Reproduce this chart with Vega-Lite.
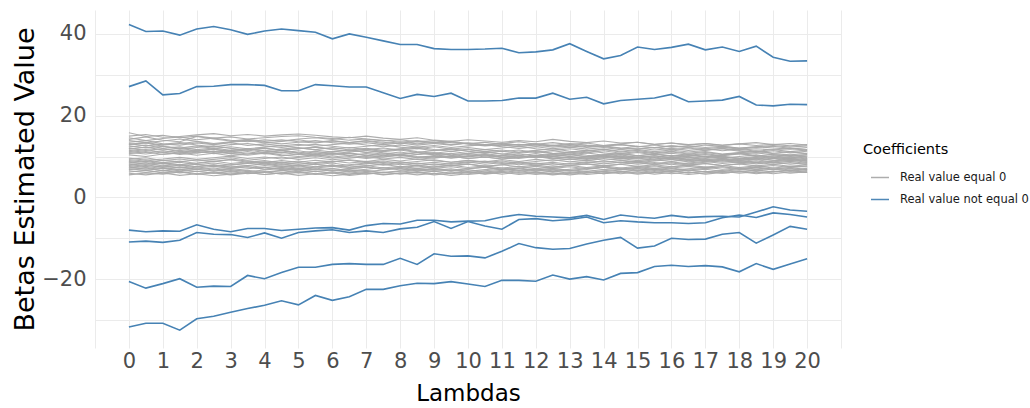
{
"$schema": "https://vega.github.io/schema/vega-lite/v6.json",
"autosize": {"type": "none"},
"padding": {"left": 95, "top": 10, "right": 189, "bottom": 60},
"width": 746,
"height": 338,
"background": "white",
"config": {"view": {"stroke": null}, "font": "DejaVu Sans"},
"data": {"values": [
{"s":"U1","type":"Real value equal 0","x":[0,0.5,1,1.5,2,2.5,3,3.5,4,4.5,5,5.5,6,6.5,7,7.5,8,8.5,9,9.5,10,10.5,11,11.5,12,12.5,13,13.5,14,14.5,15,15.5,16,16.5,17,17.5,18,18.5,19,19.5,20],"v":[15.8,14.9,15.2,14.6,15.0,14.5,14.8,14.3,14.6,14.9,15.1,14.7,14.4,14.0,14.3,13.8,14.1,13.6,13.9,13.4,13.2,13.5,13.0,12.8,13.1,12.6,12.9,12.4,12.7,12.9,12.5,12.2,12.6,12.3,12.8,12.5,12.1,12.4,12.7,12.3,12.6]},
{"s":"U2","type":"Real value equal 0","x":[0,0.5,1,1.5,2,2.5,3,3.5,4,4.5,5,5.5,6,6.5,7,7.5,8,8.5,9,9.5,10,10.5,11,11.5,12,12.5,13,13.5,14,14.5,15,15.5,16,16.5,17,17.5,18,18.5,19,19.5,20],"v":[15.0,15.4,14.7,14.9,15.3,15.6,15.1,15.4,15.0,15.3,15.5,15.2,14.8,14.6,15.0,14.5,14.2,14.6,14.0,13.7,14.1,13.8,13.5,13.9,13.6,14.2,13.7,13.4,13.8,13.3,13.5,13.0,13.3,12.9,13.2,12.8,13.1,12.7,13.0,12.6,12.9]},
{"s":"U3","type":"Real value equal 0","x":[0,0.5,1,1.5,2,2.5,3,3.5,4,4.5,5,5.5,6,6.5,7,7.5,8,8.5,9,9.5,10,10.5,11,11.5,12,12.5,13,13.5,14,14.5,15,15.5,16,16.5,17,17.5,18,18.5,19,19.5,20],"v":[14.6,13.9,14.4,14.8,14.1,14.5,14.0,13.6,14.1,13.8,14.3,14.6,14.2,14.7,14.3,14.0,13.5,13.9,13.4,13.7,13.2,12.9,13.3,12.8,13.1,12.7,13.2,12.8,12.5,12.9,12.4,12.8,12.3,12.6,12.2,12.5,12.0,12.4,12.1,11.8,12.2]},
{"s":"U4","type":"Real value equal 0","x":[0,0.5,1,1.5,2,2.5,3,3.5,4,4.5,5,5.5,6,6.5,7,7.5,8,8.5,9,9.5,10,10.5,11,11.5,12,12.5,13,13.5,14,14.5,15,15.5,16,16.5,17,17.5,18,18.5,19,19.5,20],"v":[14.2,14.8,14.0,13.6,14.9,14.3,13.8,14.2,13.7,14.1,13.6,13.3,13.8,13.4,13.9,13.5,13.1,13.6,13.2,12.8,13.3,12.9,12.6,13.0,12.5,12.8,12.3,12.7,12.4,12.0,12.5,12.1,12.6,12.2,11.9,12.3,11.8,12.2,12.5,12.0,11.7]},
{"s":"U5","type":"Real value equal 0","x":[0,0.5,1,1.5,2,2.5,3,3.5,4,4.5,5,5.5,6,6.5,7,7.5,8,8.5,9,9.5,10,10.5,11,11.5,12,12.5,13,13.5,14,14.5,15,15.5,16,16.5,17,17.5,18,18.5,19,19.5,20],"v":[13.9,13.4,13.8,14.3,13.7,13.2,13.6,14.0,13.5,13.1,13.5,13.9,13.4,13.0,13.4,12.9,13.3,12.8,13.2,13.6,13.0,12.6,12.9,12.4,12.8,12.3,12.7,12.2,12.6,12.1,11.8,12.2,11.7,12.1,11.6,12.0,11.5,11.9,11.6,12.0,11.5]},
{"s":"U6","type":"Real value equal 0","x":[0,0.5,1,1.5,2,2.5,3,3.5,4,4.5,5,5.5,6,6.5,7,7.5,8,8.5,9,9.5,10,10.5,11,11.5,12,12.5,13,13.5,14,14.5,15,15.5,16,16.5,17,17.5,18,18.5,19,19.5,20],"v":[13.5,13.9,13.1,12.8,13.3,12.9,13.4,12.7,13.1,12.6,13.0,12.5,12.9,13.3,12.8,12.4,12.8,12.3,12.7,12.2,12.6,12.9,12.4,12.0,12.4,11.9,12.3,11.8,12.2,11.7,12.1,11.6,12.0,11.5,11.9,11.4,11.8,11.3,11.7,11.2,11.6]},
{"s":"U7","type":"Real value equal 0","x":[0,0.5,1,1.5,2,2.5,3,3.5,4,4.5,5,5.5,6,6.5,7,7.5,8,8.5,9,9.5,10,10.5,11,11.5,12,12.5,13,13.5,14,14.5,15,15.5,16,16.5,17,17.5,18,18.5,19,19.5,20],"v":[13.2,12.6,13.0,13.4,12.8,12.4,12.9,13.2,12.6,12.2,12.7,13.0,12.5,12.1,12.5,12.9,12.3,11.9,12.4,11.8,12.2,11.7,12.1,12.5,11.9,11.5,11.9,11.4,11.8,11.3,11.7,11.2,11.6,11.1,11.5,11.9,11.3,11.0,11.4,10.9,11.3]},
{"s":"U8","type":"Real value equal 0","x":[0,0.5,1,1.5,2,2.5,3,3.5,4,4.5,5,5.5,6,6.5,7,7.5,8,8.5,9,9.5,10,10.5,11,11.5,12,12.5,13,13.5,14,14.5,15,15.5,16,16.5,17,17.5,18,18.5,19,19.5,20],"v":[12.9,13.3,12.5,12.1,12.6,12.0,12.4,11.9,12.3,12.7,12.1,11.7,12.2,11.6,12.0,11.5,11.9,12.3,11.7,11.3,11.8,11.2,11.6,11.1,11.5,11.9,11.3,10.9,11.4,10.8,11.2,10.7,11.1,10.6,11.0,10.5,10.9,11.3,10.7,10.4,10.8]},
{"s":"U9","type":"Real value equal 0","x":[0,0.5,1,1.5,2,2.5,3,3.5,4,4.5,5,5.5,6,6.5,7,7.5,8,8.5,9,9.5,10,10.5,11,11.5,12,12.5,13,13.5,14,14.5,15,15.5,16,16.5,17,17.5,18,18.5,19,19.5,20],"v":[12.6,12.1,12.5,11.8,12.2,12.6,12.0,11.6,12.1,11.5,11.9,12.3,11.7,11.3,11.8,11.2,11.6,11.0,11.5,11.9,11.3,10.9,11.3,10.8,11.2,10.7,11.1,11.5,10.9,10.5,11.0,10.4,10.8,10.3,10.7,10.2,10.6,10.9,10.4,10.1,10.5]},
{"s":"U10","type":"Real value equal 0","x":[0,0.5,1,1.5,2,2.5,3,3.5,4,4.5,5,5.5,6,6.5,7,7.5,8,8.5,9,9.5,10,10.5,11,11.5,12,12.5,13,13.5,14,14.5,15,15.5,16,16.5,17,17.5,18,18.5,19,19.5,20],"v":[12.3,12.8,12.0,12.4,11.7,12.1,11.5,11.9,11.4,11.8,12.2,11.6,11.1,11.6,11.0,11.4,11.8,11.2,10.8,11.3,10.7,11.1,10.6,11.0,11.4,10.8,10.4,10.9,10.3,10.7,10.2,10.6,10.1,10.5,10.0,10.4,10.8,10.2,9.9,10.3,9.8]},
{"s":"U11","type":"Real value equal 0","x":[0,0.5,1,1.5,2,2.5,3,3.5,4,4.5,5,5.5,6,6.5,7,7.5,8,8.5,9,9.5,10,10.5,11,11.5,12,12.5,13,13.5,14,14.5,15,15.5,16,16.5,17,17.5,18,18.5,19,19.5,20],"v":[12.0,11.5,11.9,11.2,11.6,11.0,11.5,11.9,11.3,10.9,11.4,10.8,11.2,11.6,11.0,10.6,11.1,10.5,10.9,10.4,10.8,11.2,10.6,10.2,10.7,10.1,10.5,10.0,10.4,10.8,10.2,9.8,10.3,9.7,10.1,9.6,10.0,10.4,9.8,9.5,9.9]},
{"s":"U12","type":"Real value equal 0","x":[0,0.5,1,1.5,2,2.5,3,3.5,4,4.5,5,5.5,6,6.5,7,7.5,8,8.5,9,9.5,10,10.5,11,11.5,12,12.5,13,13.5,14,14.5,15,15.5,16,16.5,17,17.5,18,18.5,19,19.5,20],"v":[11.8,12.3,11.6,12.0,11.4,11.8,11.2,11.6,11.0,11.5,10.9,11.3,10.7,11.1,11.5,10.9,10.5,11.0,10.4,10.8,10.3,10.7,10.2,10.6,10.1,10.5,10.9,10.3,9.9,10.4,9.8,10.2,9.7,10.1,10.5,9.9,9.6,10.0,9.5,9.9,9.4]},
{"s":"U13","type":"Real value equal 0","x":[0,0.5,1,1.5,2,2.5,3,3.5,4,4.5,5,5.5,6,6.5,7,7.5,8,8.5,9,9.5,10,10.5,11,11.5,12,12.5,13,13.5,14,14.5,15,15.5,16,16.5,17,17.5,18,18.5,19,19.5,20],"v":[11.5,11.0,11.4,10.8,11.3,10.7,11.1,10.6,11.0,11.4,10.8,10.4,10.9,10.3,10.7,10.2,10.6,11.0,10.4,10.0,10.5,9.9,10.3,9.8,10.2,10.6,10.0,9.6,10.1,9.5,9.9,9.4,9.8,9.3,9.7,10.1,9.5,9.2,9.6,9.1,9.5]},
{"s":"U14","type":"Real value equal 0","x":[0,0.5,1,1.5,2,2.5,3,3.5,4,4.5,5,5.5,6,6.5,7,7.5,8,8.5,9,9.5,10,10.5,11,11.5,12,12.5,13,13.5,14,14.5,15,15.5,16,16.5,17,17.5,18,18.5,19,19.5,20],"v":[11.2,11.7,11.0,11.5,10.9,11.3,10.7,11.2,10.6,11.0,10.5,10.9,10.3,10.8,10.2,10.6,10.1,10.5,10.9,10.3,9.9,10.4,9.8,10.2,9.7,10.1,9.6,10.0,10.4,9.8,9.4,9.9,9.3,9.7,9.2,9.6,9.1,9.5,9.9,9.3,9.0]},
{"s":"U15","type":"Real value equal 0","x":[0,0.5,1,1.5,2,2.5,3,3.5,4,4.5,5,5.5,6,6.5,7,7.5,8,8.5,9,9.5,10,10.5,11,11.5,12,12.5,13,13.5,14,14.5,15,15.5,16,16.5,17,17.5,18,18.5,19,19.5,20],"v":[11.0,10.6,11.1,10.5,10.9,11.3,10.7,10.3,10.8,10.2,10.6,10.1,10.5,10.9,10.3,9.9,10.4,9.8,10.2,9.7,10.1,10.5,9.9,9.5,10.0,9.4,9.8,9.3,9.7,10.1,9.5,9.1,9.6,9.0,9.4,8.9,9.3,9.7,9.1,8.8,9.2]},
{"s":"U16","type":"Real value equal 0","x":[0,0.5,1,1.5,2,2.5,3,3.5,4,4.5,5,5.5,6,6.5,7,7.5,8,8.5,9,9.5,10,10.5,11,11.5,12,12.5,13,13.5,14,14.5,15,15.5,16,16.5,17,17.5,18,18.5,19,19.5,20],"v":[10.7,11.2,10.5,10.9,10.3,10.8,10.2,10.6,11.0,10.4,10.0,10.5,9.9,10.3,9.8,10.2,10.6,10.0,9.6,10.1,9.5,9.9,9.4,9.8,10.2,9.6,9.2,9.7,9.1,9.5,9.0,9.4,9.8,9.2,8.9,9.3,8.8,9.2,8.7,9.1,8.6]},
{"s":"U17","type":"Real value equal 0","x":[0,0.5,1,1.5,2,2.5,3,3.5,4,4.5,5,5.5,6,6.5,7,7.5,8,8.5,9,9.5,10,10.5,11,11.5,12,12.5,13,13.5,14,14.5,15,15.5,16,16.5,17,17.5,18,18.5,19,19.5,20],"v":[13.0,13.4,12.8,13.2,13.6,13.0,13.5,13.9,13.3,13.7,14.1,13.5,13.9,13.4,13.8,13.2,13.6,13.1,13.5,12.9,13.3,12.8,13.2,13.6,13.0,13.4,12.9,13.3,12.7,13.1,13.5,12.9,13.3,12.8,13.2,12.7,13.1,13.4,12.9,13.2,12.8]},
{"s":"U18","type":"Real value equal 0","x":[0,0.5,1,1.5,2,2.5,3,3.5,4,4.5,5,5.5,6,6.5,7,7.5,8,8.5,9,9.5,10,10.5,11,11.5,12,12.5,13,13.5,14,14.5,15,15.5,16,16.5,17,17.5,18,18.5,19,19.5,20],"v":[10.4,10.0,10.6,10.9,11.3,11.7,11.2,11.6,12.0,11.5,11.9,12.3,11.8,12.2,11.7,12.1,11.6,12.0,11.4,11.8,11.3,11.7,11.2,11.6,11.0,11.4,10.9,11.3,11.7,11.1,11.5,10.9,11.3,10.8,11.2,10.6,11.0,11.4,10.8,11.2,10.7]},
{"s":"L1","type":"Real value equal 0","x":[0,0.5,1,1.5,2,2.5,3,3.5,4,4.5,5,5.5,6,6.5,7,7.5,8,8.5,9,9.5,10,10.5,11,11.5,12,12.5,13,13.5,14,14.5,15,15.5,16,16.5,17,17.5,18,18.5,19,19.5,20],"v":[9.6,9.1,9.4,9.8,9.3,9.7,10.1,9.5,9.9,9.4,9.8,10.2,9.6,10.0,9.5,9.9,10.3,9.7,10.1,9.6,10.0,10.4,9.8,10.2,9.7,10.1,10.5,9.9,10.3,9.8,10.2,10.6,10.0,10.4,9.9,10.3,10.7,10.1,10.5,10.0,10.4]},
{"s":"L2","type":"Real value equal 0","x":[0,0.5,1,1.5,2,2.5,3,3.5,4,4.5,5,5.5,6,6.5,7,7.5,8,8.5,9,9.5,10,10.5,11,11.5,12,12.5,13,13.5,14,14.5,15,15.5,16,16.5,17,17.5,18,18.5,19,19.5,20],"v":[9.3,9.7,9.0,9.4,8.9,9.3,9.7,9.1,9.5,9.9,9.3,9.7,9.2,9.6,10.0,9.4,9.8,9.3,9.7,10.1,9.5,9.9,9.4,9.8,10.2,9.6,10.0,9.5,9.9,9.4,9.8,10.2,9.6,10.0,9.5,9.9,9.4,9.8,10.2,9.7,10.1]},
{"s":"L3","type":"Real value equal 0","x":[0,0.5,1,1.5,2,2.5,3,3.5,4,4.5,5,5.5,6,6.5,7,7.5,8,8.5,9,9.5,10,10.5,11,11.5,12,12.5,13,13.5,14,14.5,15,15.5,16,16.5,17,17.5,18,18.5,19,19.5,20],"v":[9.0,8.6,9.1,8.7,9.2,8.8,9.3,8.9,8.5,9.0,8.6,9.1,8.7,9.2,8.8,9.3,8.9,9.4,9.0,8.6,9.1,8.7,9.2,8.8,9.3,8.9,9.4,9.0,9.5,9.1,8.7,9.2,8.8,9.3,8.9,9.4,9.0,9.5,9.1,9.6,9.2]},
{"s":"L4","type":"Real value equal 0","x":[0,0.5,1,1.5,2,2.5,3,3.5,4,4.5,5,5.5,6,6.5,7,7.5,8,8.5,9,9.5,10,10.5,11,11.5,12,12.5,13,13.5,14,14.5,15,15.5,16,16.5,17,17.5,18,18.5,19,19.5,20],"v":[8.8,9.2,8.5,8.9,8.3,8.8,9.2,8.6,9.0,8.4,8.9,8.3,8.7,9.1,8.5,8.9,8.4,8.8,9.2,8.6,9.0,8.5,8.9,8.4,8.8,9.2,8.7,9.1,8.6,9.0,8.5,8.9,9.3,8.7,9.1,8.6,9.0,8.5,8.9,9.3,8.8]},
{"s":"L5","type":"Real value equal 0","x":[0,0.5,1,1.5,2,2.5,3,3.5,4,4.5,5,5.5,6,6.5,7,7.5,8,8.5,9,9.5,10,10.5,11,11.5,12,12.5,13,13.5,14,14.5,15,15.5,16,16.5,17,17.5,18,18.5,19,19.5,20],"v":[8.6,8.1,8.5,8.0,8.4,8.9,8.3,8.7,8.2,8.6,8.1,8.5,8.9,8.4,8.8,8.3,8.7,8.2,8.6,8.1,8.5,8.9,8.3,8.7,8.2,8.6,8.1,8.5,8.9,8.4,8.8,8.3,8.7,8.2,8.6,9.0,8.5,8.9,8.4,8.8,8.3]},
{"s":"L6","type":"Real value equal 0","x":[0,0.5,1,1.5,2,2.5,3,3.5,4,4.5,5,5.5,6,6.5,7,7.5,8,8.5,9,9.5,10,10.5,11,11.5,12,12.5,13,13.5,14,14.5,15,15.5,16,16.5,17,17.5,18,18.5,19,19.5,20],"v":[8.4,8.8,8.2,8.6,8.0,8.4,7.9,8.3,8.7,8.1,8.5,8.0,8.4,7.8,8.2,8.6,8.0,8.4,7.9,8.3,8.7,8.1,8.5,8.0,8.4,7.9,8.3,8.7,8.2,8.6,8.1,8.5,8.0,8.4,8.8,8.3,8.7,8.2,8.6,8.1,8.5]},
{"s":"L7","type":"Real value equal 0","x":[0,0.5,1,1.5,2,2.5,3,3.5,4,4.5,5,5.5,6,6.5,7,7.5,8,8.5,9,9.5,10,10.5,11,11.5,12,12.5,13,13.5,14,14.5,15,15.5,16,16.5,17,17.5,18,18.5,19,19.5,20],"v":[8.2,7.8,8.3,7.7,8.1,7.6,8.0,8.4,7.8,8.2,7.7,8.1,7.6,8.0,8.4,7.9,8.3,7.8,8.2,7.7,8.1,7.6,8.0,8.4,7.9,8.3,7.8,8.2,7.7,8.1,8.5,8.0,8.4,7.9,8.3,7.8,8.2,8.6,8.1,8.5,8.0]},
{"s":"L8","type":"Real value equal 0","x":[0,0.5,1,1.5,2,2.5,3,3.5,4,4.5,5,5.5,6,6.5,7,7.5,8,8.5,9,9.5,10,10.5,11,11.5,12,12.5,13,13.5,14,14.5,15,15.5,16,16.5,17,17.5,18,18.5,19,19.5,20],"v":[8.0,8.4,7.7,8.1,7.5,7.9,7.4,7.8,8.2,7.6,8.0,7.5,7.9,7.3,7.7,8.1,7.5,7.9,7.4,7.8,8.2,7.6,8.0,7.5,7.9,7.4,7.8,8.2,7.7,8.1,7.6,8.0,7.5,7.9,8.3,7.8,8.2,7.7,8.1,7.6,8.0]},
{"s":"L9","type":"Real value equal 0","x":[0,0.5,1,1.5,2,2.5,3,3.5,4,4.5,5,5.5,6,6.5,7,7.5,8,8.5,9,9.5,10,10.5,11,11.5,12,12.5,13,13.5,14,14.5,15,15.5,16,16.5,17,17.5,18,18.5,19,19.5,20],"v":[7.8,7.3,7.7,7.2,7.6,8.0,7.4,7.8,7.3,7.7,7.1,7.5,7.9,7.4,7.8,7.2,7.6,7.1,7.5,7.9,7.3,7.7,7.2,7.6,7.0,7.4,7.8,7.3,7.7,7.2,7.6,7.1,7.5,7.9,7.4,7.8,7.3,7.7,7.2,7.6,7.5]},
{"s":"L10","type":"Real value equal 0","x":[0,0.5,1,1.5,2,2.5,3,3.5,4,4.5,5,5.5,6,6.5,7,7.5,8,8.5,9,9.5,10,10.5,11,11.5,12,12.5,13,13.5,14,14.5,15,15.5,16,16.5,17,17.5,18,18.5,19,19.5,20],"v":[7.6,8.0,7.4,7.8,7.2,7.6,7.1,7.5,6.9,7.3,7.7,7.2,7.6,7.0,7.4,6.9,7.3,7.7,7.1,7.5,7.0,7.4,6.8,7.2,7.6,7.1,7.5,7.0,7.4,6.9,7.3,7.7,7.2,7.6,7.1,7.5,7.0,7.4,7.8,7.3,7.7]},
{"s":"L11","type":"Real value equal 0","x":[0,0.5,1,1.5,2,2.5,3,3.5,4,4.5,5,5.5,6,6.5,7,7.5,8,8.5,9,9.5,10,10.5,11,11.5,12,12.5,13,13.5,14,14.5,15,15.5,16,16.5,17,17.5,18,18.5,19,19.5,20],"v":[7.4,6.9,7.3,6.8,7.2,6.7,7.1,7.5,6.9,7.3,6.8,7.2,6.6,7.0,7.4,6.9,7.3,6.7,7.1,6.6,7.0,7.4,6.8,7.2,6.7,7.1,6.6,7.0,7.4,6.9,7.3,6.8,7.2,6.7,7.1,7.5,7.0,7.4,6.9,7.3,6.8]},
{"s":"L12","type":"Real value equal 0","x":[0,0.5,1,1.5,2,2.5,3,3.5,4,4.5,5,5.5,6,6.5,7,7.5,8,8.5,9,9.5,10,10.5,11,11.5,12,12.5,13,13.5,14,14.5,15,15.5,16,16.5,17,17.5,18,18.5,19,19.5,20],"v":[7.2,7.6,7.0,7.4,6.8,7.2,6.6,7.0,7.4,6.8,7.2,6.7,7.1,6.5,6.9,7.3,6.7,7.1,6.6,7.0,6.4,6.8,7.2,6.6,7.0,6.5,6.9,7.3,6.8,7.2,6.7,7.1,6.6,7.0,7.4,6.9,7.3,6.8,7.2,6.7,7.1]},
{"s":"L13","type":"Real value equal 0","x":[0,0.5,1,1.5,2,2.5,3,3.5,4,4.5,5,5.5,6,6.5,7,7.5,8,8.5,9,9.5,10,10.5,11,11.5,12,12.5,13,13.5,14,14.5,15,15.5,16,16.5,17,17.5,18,18.5,19,19.5,20],"v":[7.0,6.6,7.1,6.5,6.9,6.4,6.8,6.3,6.7,7.1,6.5,6.9,6.4,6.8,6.3,6.7,7.1,6.5,6.9,6.4,6.8,6.2,6.6,7.0,6.5,6.9,6.4,6.8,6.3,6.7,7.1,6.6,7.0,6.5,6.9,6.4,6.8,7.2,6.7,7.1,6.6]},
{"s":"L14","type":"Real value equal 0","x":[0,0.5,1,1.5,2,2.5,3,3.5,4,4.5,5,5.5,6,6.5,7,7.5,8,8.5,9,9.5,10,10.5,11,11.5,12,12.5,13,13.5,14,14.5,15,15.5,16,16.5,17,17.5,18,18.5,19,19.5,20],"v":[6.8,7.2,6.5,6.9,6.3,6.7,6.2,6.6,6.1,6.5,6.9,6.3,6.7,6.2,6.6,6.0,6.4,6.8,6.3,6.7,6.1,6.5,6.9,6.4,6.8,6.2,6.6,6.1,6.5,6.9,6.4,6.8,6.3,6.7,6.2,6.6,7.0,6.5,6.9,6.4,6.8]},
{"s":"L15","type":"Real value equal 0","x":[0,0.5,1,1.5,2,2.5,3,3.5,4,4.5,5,5.5,6,6.5,7,7.5,8,8.5,9,9.5,10,10.5,11,11.5,12,12.5,13,13.5,14,14.5,15,15.5,16,16.5,17,17.5,18,18.5,19,19.5,20],"v":[6.5,6.1,6.6,6.0,6.4,5.9,6.3,5.8,6.2,6.6,6.0,6.4,5.9,6.3,5.7,6.1,6.5,6.0,6.4,5.8,6.2,5.7,6.1,6.5,6.0,6.4,5.9,6.3,5.8,6.2,6.6,6.1,6.5,6.0,6.4,5.9,6.3,6.7,6.2,6.6,6.1]},
{"s":"L16","type":"Real value equal 0","x":[0,0.5,1,1.5,2,2.5,3,3.5,4,4.5,5,5.5,6,6.5,7,7.5,8,8.5,9,9.5,10,10.5,11,11.5,12,12.5,13,13.5,14,14.5,15,15.5,16,16.5,17,17.5,18,18.5,19,19.5,20],"v":[6.2,6.6,6.0,6.4,5.8,6.2,5.7,6.1,5.6,6.0,6.4,5.8,6.2,5.7,6.1,5.5,5.9,6.3,5.8,6.2,5.6,6.0,6.4,5.9,6.3,5.7,6.1,5.6,6.0,6.4,5.9,6.3,5.8,6.2,5.7,6.1,6.5,6.0,6.4,5.9,6.3]},
{"s":"L17","type":"Real value equal 0","x":[0,0.5,1,1.5,2,2.5,3,3.5,4,4.5,5,5.5,6,6.5,7,7.5,8,8.5,9,9.5,10,10.5,11,11.5,12,12.5,13,13.5,14,14.5,15,15.5,16,16.5,17,17.5,18,18.5,19,19.5,20],"v":[5.9,5.5,6.0,5.4,5.8,5.3,5.7,6.1,5.6,6.0,5.4,5.8,5.3,5.7,6.1,5.6,6.0,5.5,5.9,5.4,5.8,6.2,5.7,6.1,5.6,6.0,5.5,5.9,6.3,5.8,6.2,5.7,6.1,5.6,6.0,6.4,5.9,6.3,5.8,6.2,6.1]},
{"s":"L18","type":"Real value equal 0","x":[0,0.5,1,1.5,2,2.5,3,3.5,4,4.5,5,5.5,6,6.5,7,7.5,8,8.5,9,9.5,10,10.5,11,11.5,12,12.5,13,13.5,14,14.5,15,15.5,16,16.5,17,17.5,18,18.5,19,19.5,20],"v":[5.5,6.0,5.7,6.2,5.6,6.0,5.5,5.9,6.3,5.7,6.1,5.6,6.0,5.4,5.8,6.2,5.7,6.1,5.5,5.9,6.3,5.8,6.2,5.6,6.0,5.5,5.9,6.3,5.8,6.2,5.7,6.1,6.5,6.0,6.4,5.9,6.3,5.8,6.2,6.6,6.1]},
{"s":"B1","type":"Real value not equal 0","x":[0,0.5,1,1.5,2,2.5,3,3.5,4,4.5,5,5.5,6,6.5,7,7.5,8,8.5,9,9.5,10,10.5,11,11.5,12,12.5,13,13.5,14,14.5,15,15.5,16,16.5,17,17.5,18,18.5,19,19.5,20],"v":[42.3,40.6,40.7,39.7,41.2,41.8,41.0,39.9,40.7,41.2,40.8,40.4,38.8,40.0,39.2,38.3,37.4,37.4,36.4,36.2,36.2,36.3,36.5,35.4,35.6,36.1,37.6,35.7,33.9,34.7,36.8,36.2,36.7,37.5,36.1,36.8,35.7,37.0,34.3,33.3,33.4]},
{"s":"B2","type":"Real value not equal 0","x":[0,0.5,1,1.5,2,2.5,3,3.5,4,4.5,5,5.5,6,6.5,7,7.5,8,8.5,9,9.5,10,10.5,11,11.5,12,12.5,13,13.5,14,14.5,15,15.5,16,16.5,17,17.5,18,18.5,19,19.5,20],"v":[27.1,28.5,25.1,25.4,27.1,27.2,27.6,27.6,27.4,26.1,26.1,27.6,27.3,27.0,27.0,25.6,24.2,25.2,24.7,25.5,23.6,23.6,23.7,24.3,24.3,25.5,24.0,24.5,22.9,23.7,24.0,24.3,25.2,23.4,23.6,23.8,24.7,22.6,22.4,22.8,22.7]},
{"s":"B3","type":"Real value not equal 0","x":[0,0.5,1,1.5,2,2.5,3,3.5,4,4.5,5,5.5,6,6.5,7,7.5,8,8.5,9,9.5,10,10.5,11,11.5,12,12.5,13,13.5,14,14.5,15,15.5,16,16.5,17,17.5,18,18.5,19,19.5,20],"v":[-8.0,-8.4,-8.2,-8.3,-6.7,-7.8,-8.4,-7.6,-7.6,-8.1,-7.8,-7.5,-7.4,-8.0,-6.9,-6.4,-6.5,-5.6,-5.6,-6.0,-5.8,-5.7,-4.8,-4.2,-4.6,-4.8,-5.0,-4.4,-5.4,-4.3,-4.8,-5.1,-4.4,-4.9,-4.7,-4.6,-4.8,-3.6,-2.3,-3.1,-3.4]},
{"s":"B4","type":"Real value not equal 0","x":[0,0.5,1,1.5,2,2.5,3,3.5,4,4.5,5,5.5,6,6.5,7,7.5,8,8.5,9,9.5,10,10.5,11,11.5,12,12.5,13,13.5,14,14.5,15,15.5,16,16.5,17,17.5,18,18.5,19,19.5,20],"v":[-10.9,-10.7,-11.0,-10.5,-8.6,-9.0,-9.1,-9.8,-8.7,-10.0,-8.6,-8.2,-7.9,-8.6,-8.2,-8.6,-7.7,-7.3,-5.9,-7.6,-5.9,-7.0,-7.8,-5.4,-5.2,-5.7,-5.4,-4.8,-6.2,-5.7,-6.0,-6.2,-6.2,-6.4,-6.2,-5.0,-4.3,-4.9,-3.8,-4.2,-4.8]},
{"s":"B5","type":"Real value not equal 0","x":[0,0.5,1,1.5,2,2.5,3,3.5,4,4.5,5,5.5,6,6.5,7,7.5,8,8.5,9,9.5,10,10.5,11,11.5,12,12.5,13,13.5,14,14.5,15,15.5,16,16.5,17,17.5,18,18.5,19,19.5,20],"v":[-20.6,-22.2,-21.1,-19.9,-22.0,-21.7,-21.8,-19.1,-19.9,-18.4,-17.1,-17.1,-16.4,-16.2,-16.4,-16.4,-14.9,-16.4,-13.8,-14.4,-14.3,-14.8,-13.2,-11.3,-12.3,-12.7,-12.5,-11.4,-10.5,-9.8,-12.4,-11.9,-10.0,-10.3,-10.2,-9.0,-8.6,-11.2,-9.2,-7.1,-7.8]},
{"s":"B6","type":"Real value not equal 0","x":[0,0.5,1,1.5,2,2.5,3,3.5,4,4.5,5,5.5,6,6.5,7,7.5,8,8.5,9,9.5,10,10.5,11,11.5,12,12.5,13,13.5,14,14.5,15,15.5,16,16.5,17,17.5,18,18.5,19,19.5,20],"v":[-31.7,-30.8,-30.8,-32.5,-29.7,-29.1,-28.1,-27.2,-26.4,-25.3,-26.3,-24.0,-25.2,-24.3,-22.5,-22.5,-21.6,-21.0,-21.1,-20.6,-21.2,-21.8,-20.3,-20.3,-20.5,-19.0,-20.0,-19.4,-20.2,-18.6,-18.4,-16.9,-16.6,-16.9,-16.7,-17.0,-18.2,-16.2,-17.6,-16.3,-15.0]}
]},
"transform": [{"flatten": ["x", "v"]}],
"encoding": {
  "x": {"field": "x", "type": "quantitative",
    "scale": {"domain": [-1, 21], "nice": false, "zero": false},
    "axis": {"title": "Lambdas", "format": "d",
      "values": [-1,-0.5,0,0.5,1,1.5,2,2.5,3,3.5,4,4.5,5,5.5,6,6.5,7,7.5,8,8.5,9,9.5,10,10.5,11,11.5,12,12.5,13,13.5,14,14.5,15,15.5,16,16.5,17,17.5,18,18.5,19,19.5,20,20.5,21],
      "labelExpr": "(datum.value % 1 === 0 && datum.value >= 0 && datum.value <= 20) ? datum.label : ''",
      "labelOverlap": false, "labelFlush": false, "labelBound": false,
      "labelFont": "DejaVu Sans", "labelFontSize": 21, "labelColor": "#4D4D4D", "labelPadding": 2,
      "titleFont": "DejaVu Sans", "titleFontSize": 23, "titleFontWeight": "normal", "titleColor": "#000000",
      "titleY": 45, "titleBaseline": "middle",
      "domain": false, "ticks": false, "tickSize": 0,
      "grid": true, "gridColor": "#EBEBEB", "gridWidth": 1}},
  "y": {"field": "v", "type": "quantitative",
    "scale": {"domain": [-36.85, 45.85], "nice": false, "zero": false},
    "axis": {"title": "Betas Estimated Value",
      "values": [-30,-20,-10,0,10,20,30,40],
      "labelExpr": "datum.value % 20 === 0 ? datum.label : ''",
      "labelOverlap": false, "labelFlush": false, "labelBound": false,
      "labelFont": "DejaVu Sans", "labelFontSize": 21, "labelColor": "#4D4D4D", "labelPadding": 9,
      "titleFont": "DejaVu Sans", "titleFontSize": 27, "titleFontWeight": "normal", "titleColor": "#000000",
      "titleX": -62, "titleBaseline": "alphabetic",
      "domain": false, "ticks": false, "tickSize": 0,
      "grid": true, "gridColor": "#EBEBEB", "gridWidth": 1}},
  "detail": {"field": "s", "type": "nominal"},
  "color": {"field": "type", "type": "nominal",
    "scale": {"domain": ["Real value equal 0", "Real value not equal 0"], "range": ["#A9A9A9", "#4682B4"]},
    "legend": {"title": "Coefficients", "orient": "none", "legendX": 768, "legendY": 133,
      "padding": 0, "titleFont": "DejaVu Sans", "titleFontSize": 14.5, "titleFontWeight": "normal", "titleColor": "#000000", "titlePadding": 10,
      "labelFont": "DejaVu Sans", "labelFontSize": 11.5, "labelColor": "#1A1A1A", "labelOffset": 10,
      "symbolType": "stroke", "symbolSize": 324, "symbolStrokeWidth": 1.5, "symbolOffset": 7, "rowPadding": 6}}
},
"layer": [
  {"transform": [{"filter": "datum.type === 'Real value equal 0'"}],
   "mark": {"type": "line", "strokeWidth": 1.1, "opacity": 0.95}},
  {"transform": [{"filter": "datum.type === 'Real value not equal 0'"}],
   "mark": {"type": "line", "strokeWidth": 1.6}}
]
}
